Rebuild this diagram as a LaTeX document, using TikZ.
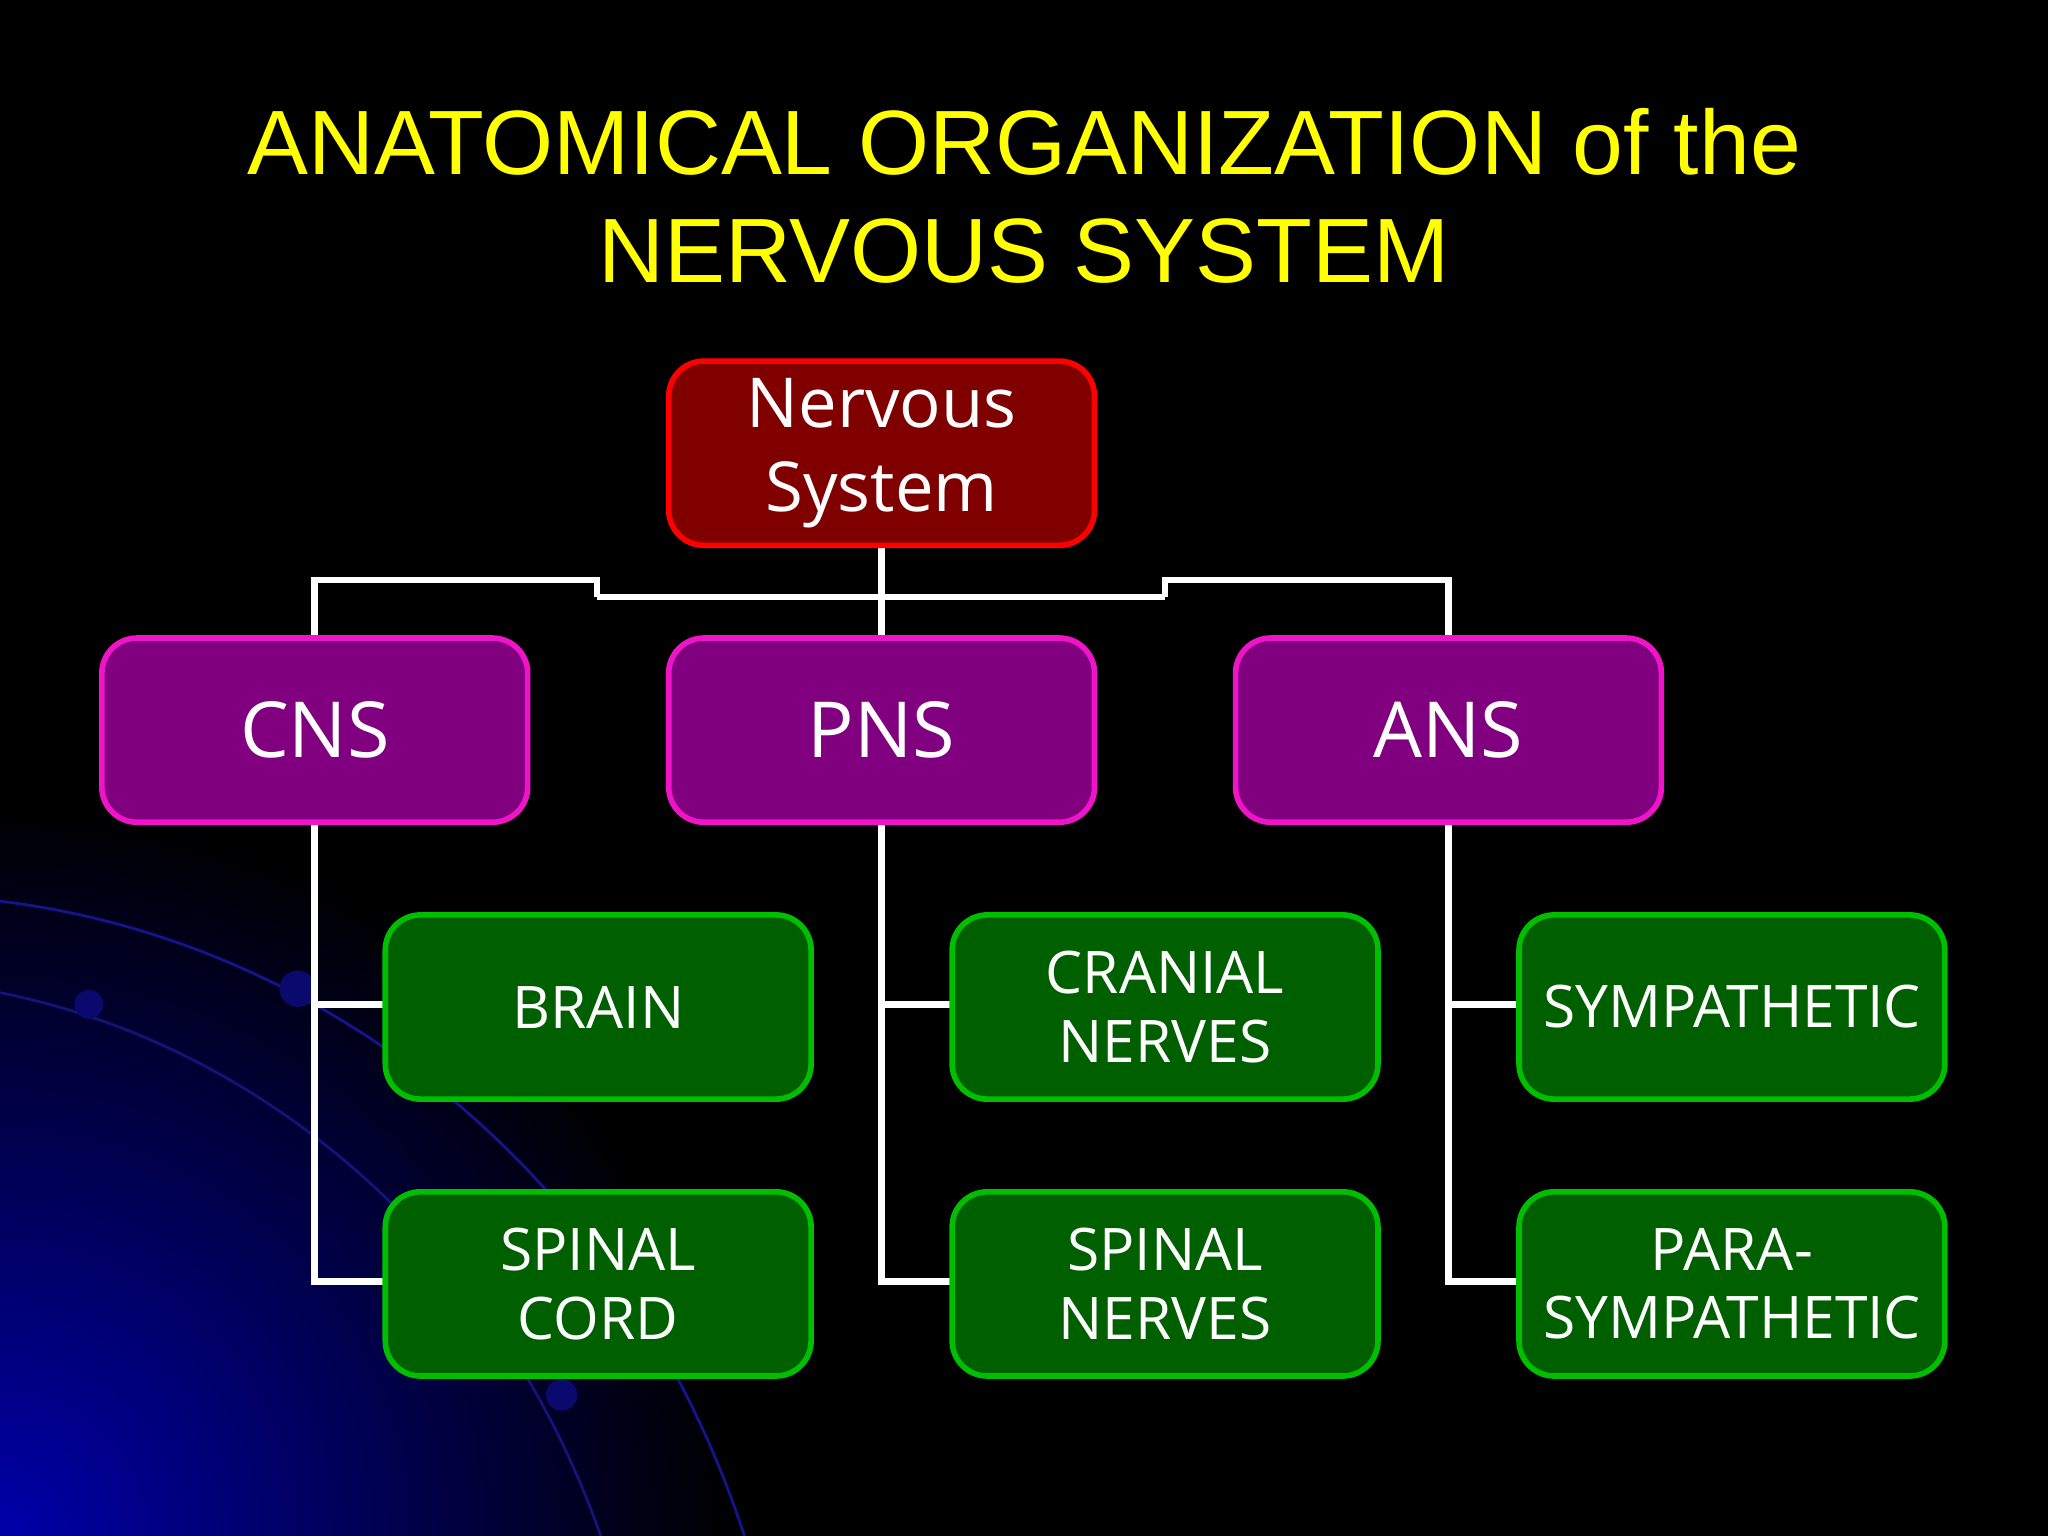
\documentclass[tikz,border=0pt]{standalone}
\usepackage{fontspec}
\setmainfont{Open Sans}
\newfontfamily\titlefont{Liberation Sans}
\definecolor{arcA}{RGB}{20,20,140}
\definecolor{arcB}{RGB}{20,20,120}
\definecolor{dotc}{RGB}{10,10,110}
\definecolor{bgblue}{RGB}{0,0,170}
\definecolor{titley}{RGB}{255,255,0}
\definecolor{topfill}{RGB}{128,0,0}
\definecolor{topdraw}{RGB}{255,0,0}
\definecolor{midfill}{RGB}{128,0,128}
\definecolor{middraw}{RGB}{240,20,200}
\definecolor{leaffill}{RGB}{0,96,0}
\definecolor{leafdraw}{RGB}{0,190,0}
\begin{document}
\begin{tikzpicture}[x=0.013061cm,y=-0.013061cm,
 box/.style={rounded corners=10pt, line width=1.6pt, minimum width=4.258cm, minimum height=1.842cm, align=center, text=white, inner sep=0pt},
 top/.style={box, fill=topfill, draw=topdraw, font=\fontsize{19.6}{24}\selectfont},
 mid/.style={box, fill=midfill, draw=middraw, font=\fontsize{22}{26}\selectfont},
 leaf/.style={box, fill=leaffill, draw=leafdraw, font=\fontsize{16.7}{19.5}\selectfont},
 conn/.style={draw=white, line width=1.9pt}]
\useasboundingbox (0,0) rectangle (1568,1176);
\fill[black] (0,0) rectangle (1568,1176);
\begin{scope}
\clip (0,0) rectangle (1568,1176);
\shade[inner color=bgblue, outer color=black] (0,1176) circle (560);
\draw[arcA, line width=0.8pt] (0,690) .. controls (250,720) and (480,900) .. (570,1176);
\draw[arcB, line width=0.8pt] (0,760) .. controls (200,800) and (380,950) .. (460,1176);
\fill[dotc] (68,769) circle (11);
\fill[dotc] (228,757) circle (14);
\fill[dotc] (430,1068) circle (12);
\end{scope}
\draw[conn] (675,415) -- (675,486);
\draw[conn] (457,457) -- (892,457);
\draw[conn] (241,486) -- (241,444) -- (457,444) -- (457,457);
\draw[conn] (1109,486) -- (1109,444) -- (892,444) -- (892,457);
\draw[conn] (241,627) -- (241,981) -- (295,981);
\draw[conn] (241,769) -- (295,769);
\draw[conn] (675,627) -- (675,981) -- (729,981);
\draw[conn] (675,769) -- (729,769);
\draw[conn] (1109,627) -- (1109,981) -- (1163,981);
\draw[conn] (1109,769) -- (1163,769);
\node[text=titley, font=\titlefont\fontsize{26}{30.5}\selectfont, align=center] (title) at (784,150) {ANATOMICAL ORGANIZATION of the\\NERVOUS SYSTEM};
\node[top] (ns) at (675,347) {Nervous\\System};
\node[mid] (cns) at (241,559) {CNS};
\node[mid] (pns) at (675,559) {PNS};
\node[mid] (ans) at (1109,559) {ANS};
\node[leaf] (brain) at (458,771) {BRAIN};
\node[leaf] (sc) at (458,983) {SPINAL\\CORD};
\node[leaf] (cn) at (892,771) {CRANIAL\\NERVES};
\node[leaf] (sn) at (892,983) {SPINAL\\NERVES};
\node[leaf] (sym) at (1326,771) {SYMPATHETIC};
\node[leaf] (para) at (1326,983) {PARA-\\SYMPATHETIC};
\end{tikzpicture}
\end{document}
